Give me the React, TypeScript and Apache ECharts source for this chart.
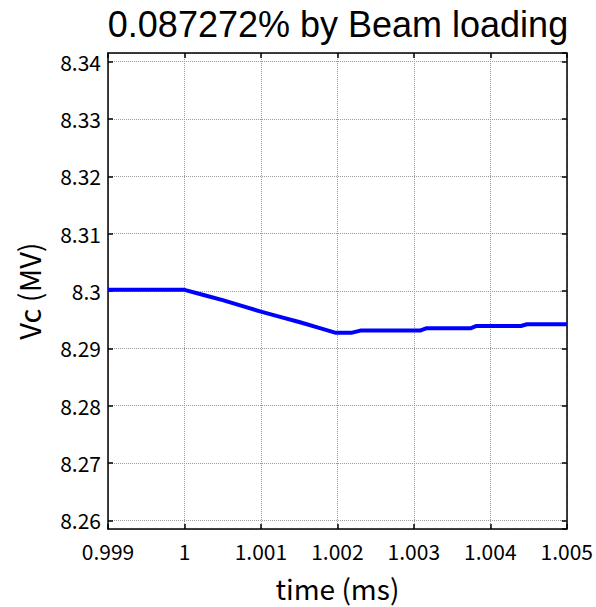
import React, { useEffect, useRef } from "react";
import * as echarts from "echarts";

const titleText = "0.087272% by Beam loading";
const xName = "time (ms)";
const yName = "Vc (MV)";

const timeMs = [
  0.999, 1.0, 1.00025, 1.0005, 1.00075, 1.001, 1.00125, 1.0015, 1.00175, 1.00198,
  1.00218, 1.0023, 1.00308, 1.00316, 1.00374, 1.00382, 1.0044, 1.00448, 1.005,
];
const vcMV = [
  8.3002, 8.3002, 8.2993, 8.2984, 8.2974, 8.2964, 8.2955, 8.2946, 8.2936, 8.2927,
  8.2927, 8.2931, 8.2931, 8.2935, 8.2935, 8.2939, 8.2939, 8.2942, 8.2942,
];

const xMin = 0.999;
const xMax = 1.005;
const xStep = 0.001;
const yMin = 8.2585;
const yMax = 8.3415;

const FONT = "'Noto Sans CJK JP', 'Noto Sans', sans-serif";
const TITLE_FONT = "'Liberation Sans', Arial, sans-serif";

export default function App() {
  const ref = useRef<HTMLDivElement>(null);
  useEffect(() => {
    if (!ref.current) return;
    const chart = echarts.init(ref.current, undefined, { renderer: "svg" });
    const points = timeMs.map((t, i) => [t, vcMV[i]]);
    const isYTick = (v: number) => Math.abs(v * 100 - Math.round(v * 100)) < 1e-6;
    const grid = { left: 108, right: 28, top: 53, bottom: 74 };
    const tickStyle = { show: true, inside: true, length: 5, lineStyle: { color: "#000", width: 1.5 } };
    const lineStyle = { show: true, lineStyle: { color: "#000", width: 1.5 } };
    const split = { show: true, lineStyle: { color: "#9a9a9a", type: [1, 1] as any, width: 1 } };
    chart.setOption({
      animation: false,
      backgroundColor: "#fff",
      title: {
        text: titleText,
        left: 338,
        top: 5,
        padding: 0,
        textAlign: "center",
        textStyle: { fontFamily: TITLE_FONT, fontSize: 36, lineHeight: 38, fontWeight: "normal", color: "#000" },
      },
      grid,
      xAxis: [
        {
          type: "value",
          min: xMin,
          max: xMax,
          interval: xStep,
          name: xName,
          nameLocation: "middle",
          nameGap: 45,
          nameTextStyle: { fontFamily: FONT, fontSize: 28, color: "#000" },
          axisLine: { ...lineStyle, onZero: false },
          axisTick: tickStyle,
          splitLine: split,
          axisLabel: {
            fontFamily: FONT,
            fontSize: 21,
            color: "#000",
            margin: 12,
            formatter: (v: number) => String(parseFloat(v.toFixed(3))),
          },
        },
        {
          type: "value",
          position: "top",
          min: xMin,
          max: xMax,
          interval: xStep,
          axisLine: { ...lineStyle, onZero: false },
          axisTick: tickStyle,
          axisLabel: { show: false },
          splitLine: { show: false },
        },
      ],
      yAxis: [
        {
          type: "value",
          min: yMin,
          max: yMax,
          splitNumber: 8,
          name: yName,
          nameLocation: "middle",
          nameGap: 66,
          nameRotate: 90,
          nameTextStyle: { fontFamily: FONT, fontSize: 29, color: "#000" },
          axisLine: { ...lineStyle, onZero: false },
          axisTick: { ...tickStyle },
          splitLine: split,
          axisLabel: {
            fontFamily: FONT,
            fontSize: 21,
            color: "#000",
            margin: 7,
            showMinLabel: false,
            showMaxLabel: false,
            formatter: (v: number) => (isYTick(v) ? String(parseFloat(v.toFixed(2))) : ""),
          },
        },
        {
          type: "value",
          position: "right",
          min: yMin,
          max: yMax,
          splitNumber: 8,
          axisLine: { ...lineStyle, onZero: false },
          axisTick: tickStyle,
          axisLabel: { show: false },
          splitLine: { show: false },
        },
      ],
      series: [
        {
          type: "line",
          data: points,
          showSymbol: false,
          symbol: "none",
          lineStyle: { color: "#0000ff", width: 4 },
          xAxisIndex: 0,
          yAxisIndex: 0,
        },
      ],
    });
    return () => chart.dispose();
  }, []);
  return (
    <div
      ref={ref}
      style={{ position: "fixed", left: 0, top: 0, width: 596, height: 607, background: "#fff" }}
    />
  );
}
